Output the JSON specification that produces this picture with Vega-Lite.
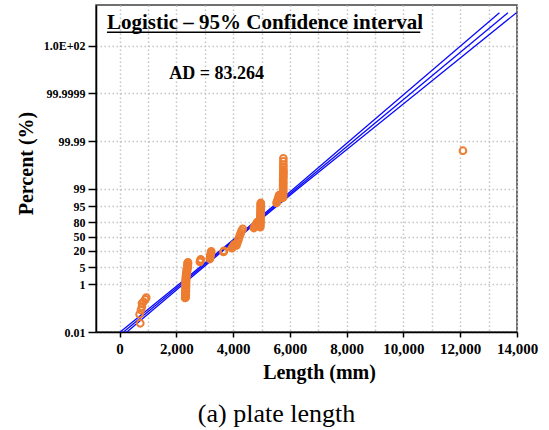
{
  "$schema": "https://vega.github.io/schema/vega-lite/v6.json",
  "width": 421,
  "height": 327,
  "autosize": {"type": "none"},
  "padding": {"left": 96, "top": 5, "right": 32, "bottom": 98},
  "background": "white",
  "title": {
    "text": "(a) plate length",
    "orient": "bottom",
    "anchor": "middle",
    "frame": "group",
    "font": "Liberation Serif",
    "fontSize": 26,
    "fontWeight": "normal",
    "color": "black",
    "baseline": "top",
    "dx": -30,
    "offset": 19
  },
  "config": {
    "font": "Liberation Serif",
    "view": {"stroke": "#404040", "strokeWidth": 1.5}
  },
  "datasets": {
    "fitLines": [
      {"line": "fit", "len": 140, "logit_p": -9.2102},
      {"line": "fit", "len": 13681, "logit_p": 21.6},
      {"line": "upper", "len": 22, "logit_p": -9.2102},
      {"line": "upper", "len": 2091, "logit_p": -4.6},
      {"line": "upper", "len": 4143, "logit_p": 0},
      {"line": "upper", "len": 6135, "logit_p": 4.6},
      {"line": "upper", "len": 8096, "logit_p": 9.21},
      {"line": "upper", "len": 10053, "logit_p": 13.8},
      {"line": "upper", "len": 13381, "logit_p": 21.6},
      {"line": "lower", "len": 258, "logit_p": -9.2102},
      {"line": "lower", "len": 2241, "logit_p": -4.6},
      {"line": "lower", "len": 4233, "logit_p": 0},
      {"line": "lower", "len": 6285, "logit_p": 4.6},
      {"line": "lower", "len": 8376, "logit_p": 9.21},
      {"line": "lower", "len": 10453, "logit_p": 13.8},
      {"line": "lower", "len": 13981, "logit_p": 21.6}
    ],
    "plates": [
      {"len": 729, "logit_p": -8.37}, {"len": 705, "logit_p": -7.5}, {"len": 753, "logit_p": -7.09},
      {"len": 788, "logit_p": -6.77}, {"len": 790, "logit_p": -6.44}, {"len": 846, "logit_p": -6.29},
      {"len": 905, "logit_p": -6.05}, {"len": 940, "logit_p": -5.9},
      {"len": 2310, "logit_p": -5.93}, {"len": 2330, "logit_p": -5.85}, {"len": 2320, "logit_p": -5.78},
      {"len": 2335, "logit_p": -5.63}, {"len": 2315, "logit_p": -5.55}, {"len": 2330, "logit_p": -5.48},
      {"len": 2320, "logit_p": -5.33}, {"len": 2340, "logit_p": -5.25}, {"len": 2325, "logit_p": -5.18},
      {"len": 2335, "logit_p": -5.03}, {"len": 2320, "logit_p": -4.95}, {"len": 2340, "logit_p": -4.88},
      {"len": 2325, "logit_p": -4.73}, {"len": 2345, "logit_p": -4.65}, {"len": 2330, "logit_p": -4.58},
      {"len": 2340, "logit_p": -4.43}, {"len": 2325, "logit_p": -4.35}, {"len": 2345, "logit_p": -4.28},
      {"len": 2330, "logit_p": -4.13}, {"len": 2350, "logit_p": -4.05}, {"len": 2335, "logit_p": -3.98},
      {"len": 2350, "logit_p": -3.83}, {"len": 2340, "logit_p": -3.75}, {"len": 2355, "logit_p": -3.68},
      {"len": 2370, "logit_p": -3.53}, {"len": 2355, "logit_p": -3.45}, {"len": 2375, "logit_p": -3.38},
      {"len": 2380, "logit_p": -3.23}, {"len": 2365, "logit_p": -3.15}, {"len": 2390, "logit_p": -3.08},
      {"len": 2400, "logit_p": -2.93}, {"len": 2385, "logit_p": -2.85}, {"len": 2405, "logit_p": -2.78},
      {"len": 2410, "logit_p": -2.63}, {"len": 2395, "logit_p": -2.55}, {"len": 2410, "logit_p": -2.48},
      {"len": 2830, "logit_p": -2.45}, {"len": 2843, "logit_p": -2.33}, {"len": 2860, "logit_p": -2.2},
      {"len": 3180, "logit_p": -2.17}, {"len": 3190, "logit_p": -2.0}, {"len": 3200, "logit_p": -1.85},
      {"len": 3210, "logit_p": -1.7}, {"len": 3220, "logit_p": -1.55}, {"len": 3230, "logit_p": -1.42},
      {"len": 3660, "logit_p": -1.48}, {"len": 3680, "logit_p": -1.38},
      {"len": 3960, "logit_p": -1.12}, {"len": 3990, "logit_p": -1.0}, {"len": 4020, "logit_p": -0.88},
      {"len": 4050, "logit_p": -0.76},
      {"len": 4120, "logit_p": -0.85}, {"len": 4150, "logit_p": -0.6}, {"len": 4180, "logit_p": -0.35},
      {"len": 4210, "logit_p": -0.1}, {"len": 4240, "logit_p": 0.15}, {"len": 4270, "logit_p": 0.35},
      {"len": 4300, "logit_p": 0.55}, {"len": 4340, "logit_p": 0.75},
      {"len": 4730, "logit_p": 0.82}, {"len": 4760, "logit_p": 0.95}, {"len": 4790, "logit_p": 1.1},
      {"len": 4820, "logit_p": 1.25}, {"len": 4850, "logit_p": 1.4},
      {"len": 4955, "logit_p": 0.9}, {"len": 4960, "logit_p": 1.05}, {"len": 4955, "logit_p": 1.2},
      {"len": 4960, "logit_p": 1.35}, {"len": 4965, "logit_p": 1.5}, {"len": 4960, "logit_p": 1.65},
      {"len": 4965, "logit_p": 1.8}, {"len": 4960, "logit_p": 1.95}, {"len": 4965, "logit_p": 2.1},
      {"len": 4970, "logit_p": 2.25}, {"len": 4965, "logit_p": 2.4}, {"len": 4970, "logit_p": 2.55},
      {"len": 4970, "logit_p": 2.7}, {"len": 4975, "logit_p": 2.85}, {"len": 4970, "logit_p": 3.0},
      {"len": 4975, "logit_p": 3.15}, {"len": 4975, "logit_p": 3.24},
      {"len": 5530, "logit_p": 3.25}, {"len": 5550, "logit_p": 3.4}, {"len": 5570, "logit_p": 3.55},
      {"len": 5590, "logit_p": 3.7}, {"len": 5610, "logit_p": 3.85}, {"len": 5620, "logit_p": 4.0},
      {"len": 5755, "logit_p": 3.75}, {"len": 5760, "logit_p": 3.9}, {"len": 5755, "logit_p": 4.05},
      {"len": 5760, "logit_p": 4.2}, {"len": 5760, "logit_p": 4.35}, {"len": 5765, "logit_p": 4.5},
      {"len": 5760, "logit_p": 4.65}, {"len": 5765, "logit_p": 4.8}, {"len": 5760, "logit_p": 4.95},
      {"len": 5765, "logit_p": 5.1}, {"len": 5765, "logit_p": 5.25}, {"len": 5760, "logit_p": 5.4},
      {"len": 5765, "logit_p": 5.55}, {"len": 5765, "logit_p": 5.7}, {"len": 5770, "logit_p": 5.85},
      {"len": 5765, "logit_p": 6.0}, {"len": 5770, "logit_p": 6.15}, {"len": 5770, "logit_p": 6.3},
      {"len": 5770, "logit_p": 6.45}, {"len": 5770, "logit_p": 6.7}, {"len": 5770, "logit_p": 6.95},
      {"len": 5770, "logit_p": 7.25}, {"len": 5770, "logit_p": 7.55},
      {"len": 12096, "logit_p": 8.28}
    ]
  },
  "layer": [
    {
      "data": {"name": "fitLines"},
      "mark": {"type": "line", "color": "#0a0aff", "strokeWidth": 1.3, "clip": true},
      "encoding": {
        "x": {
          "field": "len",
          "type": "quantitative",
          "scale": {"domain": [-830, 14000], "nice": false, "zero": false},
          "axis": {
            "title": "Length (mm)",
            "values": [0, 1000, 2000, 3000, 4000, 5000, 6000, 7000, 8000, 9000, 10000, 11000, 12000, 13000, 14000],
            "tickCount": 40,
            "labelExpr": "datum.value % 2000 === 0 ? format(datum.value, ',') : ''",
            "labelOverlap": false,
            "labelFlush": false,
            "labelFont": "Liberation Serif",
            "labelFontSize": 15,
            "labelFontWeight": "bold",
            "labelColor": "black",
            "labelPadding": 4,
            "tickSize": 5,
            "tickWidth": 1.5,
            "tickColor": {"condition": {"test": "datum.value % 2000 === 0", "value": "black"}, "value": "transparent"},
            "domainColor": "black",
            "domainWidth": 1.5,
            "grid": true,
            "gridColor": "#c4c4c4",
            "gridWidth": 1.5,
            "gridDash": [1.5, 2.5],
            "titleFont": "Liberation Serif",
            "titleFontSize": 20,
            "titleFontWeight": "bold",
            "titleColor": "black",
            "titleX": 223,
            "titleY": 46,
            "titleAlign": "center",
            "titleBaseline": "alphabetic"
          }
        },
        "y": {
          "field": "logit_p",
          "type": "quantitative",
          "scale": {"domain": [-9.2102, 22.34], "nice": false, "zero": false},
          "axis": {
            "title": "Percent (%)",
            "values": [-9.2102, -4.5951, -2.9444, -1.3863, 0, 1.3863, 2.9444, 4.5951, 9.2102, 13.8155, 18.4207],
            "tickCount": 40,
            "labelExpr": "datum.value < -9 ? '0.01' : datum.value < -4 ? '1' : datum.value < -2 ? '5' : datum.value < -1 ? '20' : datum.value < 0.5 ? '50' : datum.value < 2 ? '80' : datum.value < 4 ? '95' : datum.value < 6 ? '99' : datum.value < 11 ? '99.99' : datum.value < 16 ? '99.9999' : '1.0E+02'",
            "labelOverlap": false,
            "labelFlush": false,
            "labelFont": "Liberation Serif",
            "labelFontSize": 12,
            "labelFontWeight": "bold",
            "labelColor": "black",
            "labelPadding": 3,
            "tickSize": 8,
            "tickWidth": 1.5,
            "tickColor": "black",
            "domainColor": "black",
            "domainWidth": 1.5,
            "grid": true,
            "gridColor": "#c4c4c4",
            "gridWidth": 1.5,
            "gridDash": [1.5, 2.5],
            "titleFont": "Liberation Serif",
            "titleFontSize": 20,
            "titleFontWeight": "bold",
            "titleColor": "black",
            "titleAngle": 270,
            "titleX": -64,
            "titleY": 158,
            "titleAlign": "center",
            "titleBaseline": "alphabetic"
          }
        },
        "detail": {"field": "line"}
      }
    },
    {
      "data": {"name": "plates"},
      "mark": {"type": "point", "shape": "circle", "filled": false, "color": "#ED7D31", "size": 45, "strokeWidth": 2, "opacity": 1},
      "encoding": {
        "x": {"field": "len", "type": "quantitative"},
        "y": {"field": "logit_p", "type": "quantitative"}
      }
    },
    {
      "data": {"values": [{}]},
      "mark": {"type": "text", "text": "Logistic – 95% Confidence interval", "font": "Liberation Serif", "fontSize": 21, "fontWeight": "bold", "align": "left", "baseline": "alphabetic", "color": "black"},
      "encoding": {
        "x": {"datum": -444, "type": "quantitative"},
        "y": {"datum": 20.0, "type": "quantitative"}
      }
    },
    {
      "data": {"values": [{}]},
      "mark": {"type": "rule", "color": "black", "strokeWidth": 1.5},
      "encoding": {
        "x": {"datum": -444, "type": "quantitative"},
        "x2": {"datum": 10592},
        "y": {"datum": 19.7, "type": "quantitative"}
      }
    },
    {
      "data": {"values": [{}]},
      "mark": {"type": "text", "text": "AD = 83.264", "font": "Liberation Serif", "fontSize": 18, "fontWeight": "bold", "align": "left", "baseline": "alphabetic", "color": "black"},
      "encoding": {
        "x": {"datum": 1751, "type": "quantitative"},
        "y": {"datum": 15.2, "type": "quantitative"}
      }
    }
  ]
}
